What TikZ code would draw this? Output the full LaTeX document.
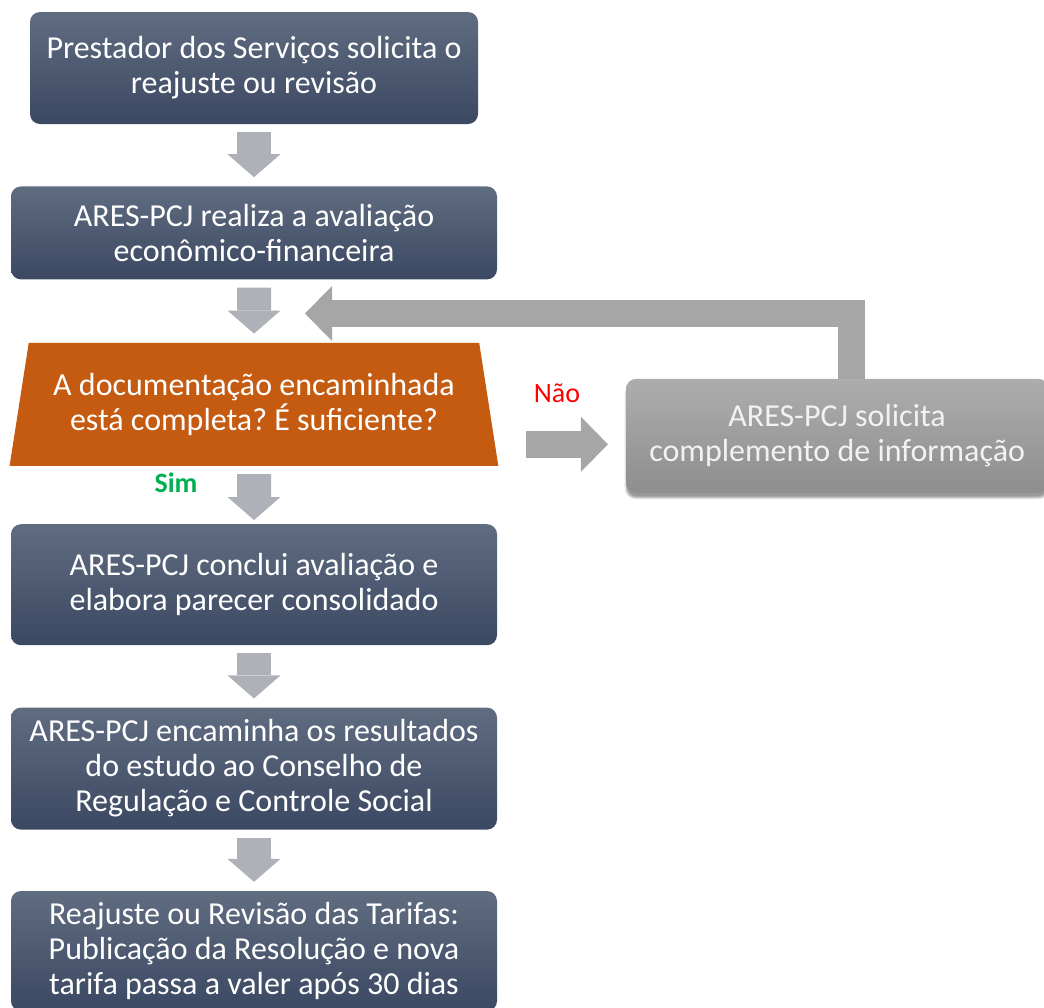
\documentclass[tikz,border=0pt]{standalone}
\usepackage{fontspec}
\setmainfont{Carlito}
\usetikzlibrary{arrows.meta,positioning,shapes.geometric,shadows.blur}
\definecolor{slatetop}{HTML}{606C80}
\definecolor{slatebot}{HTML}{3B4862}
\definecolor{rust}{HTML}{C55A11}
\definecolor{greytop}{HTML}{ADADAD}
\definecolor{greybot}{HTML}{8E8E8E}
\definecolor{steel}{HTML}{AEB1B8}
\definecolor{loopgrey}{HTML}{A6A6A6}
\definecolor{nored}{HTML}{FF0000}
\definecolor{yesgreen}{HTML}{00B050}

\begin{document}
\frenchspacing
\begin{tikzpicture}[
  node distance=62pt and 62pt,
  every node/.style={font=\fontsize{32pt}{35pt}\selectfont, align=center, inner sep=6pt},
  stage/.style={rounded corners=10pt, top color=slatetop, bottom color=slatebot, text=white, minimum width=486pt},
  query/.style={trapezium, trapezium stretches=true, trapezium left angle=76.7, trapezium right angle=76.7, fill=rust, text=white, minimum width=489pt, minimum height=123pt},
  reqbox/.style={rounded corners=10pt, top color=greytop, bottom color=greybot, text=white!95!black, minimum width=422pt, minimum height=114pt, blur shadow={shadow xshift=0pt, shadow yshift=-5pt, shadow blur steps=6}},
  tag/.style={font=\fontsize{28pt}{34pt}\selectfont, anchor=base},
  flow/.style={-{Triangle[length=23pt 0 0, width=53pt 0 0, line width=0pt 0 0]}, line width=34pt, draw=steel, shorten <=8pt, shorten >=9pt},
  side/.style={-{Triangle[length=27pt 0 0, width=55pt 0 0, line width=0pt 0 0]}, line width=27pt, draw=loopgrey}
]
\useasboundingbox (0,0) rectangle (1044pt,-1007pt);
\node[stage, minimum width=448pt, minimum height=112pt] (ask) at (254pt,-68pt) {Prestador dos Serviços solicita o\\reajuste ou revisão};
\node[stage, minimum height=93pt, below=of ask] (eval) {ARES-PCJ realiza a avaliação\\econômico-financeira};
\node[query, below=63pt of eval] (check) {A documentação encaminhada\\está completa? É suficiente?};
\node[stage, minimum height=121pt, below=58pt of check] (report) {ARES-PCJ conclui avaliação e\\elabora parecer consolidado};
\node[stage, minimum height=122pt, below=of report] (council) {ARES-PCJ encaminha os resultados\\do estudo ao Conselho de\\Regulação e Controle Social};
\node[stage, minimum height=120pt, below=61pt of council] (tariff) {Reajuste ou Revisão das Tarifas:\\Publicação da Resolução e nova\\tarifa passa a valer após 30 dias};
\node[reqbox, right=137pt of check, yshift=-31.5pt] (more) {ARES-PCJ solicita\\complemento de informação};
\node[tag, text=nored] (no) at (557pt,-402pt) {Não};
\node[tag, text=yesgreen, font=\fontsize{28pt}{34pt}\selectfont\bfseries] (yes) at (176pt,-492pt) {Sim};
\coordinate (nofrom) at ([yshift=-40pt]check.east);
\coordinate (back) at (305pt,-313.5pt);
% main flow
\draw[flow] (ask) -- (eval);
\draw[flow] (eval) -- (check);
\draw[flow, shorten >=4pt] (check) -- (report);
\draw[flow] (report) -- (council);
\draw[flow] (council) -- (tariff);
% loop back
\draw[side, shorten <=37pt, shorten >=18pt] (nofrom) -- (nofrom -| more.west);
\draw[side] ([xshift=14pt]more.north) |- (back);
\end{tikzpicture}
\end{document}
